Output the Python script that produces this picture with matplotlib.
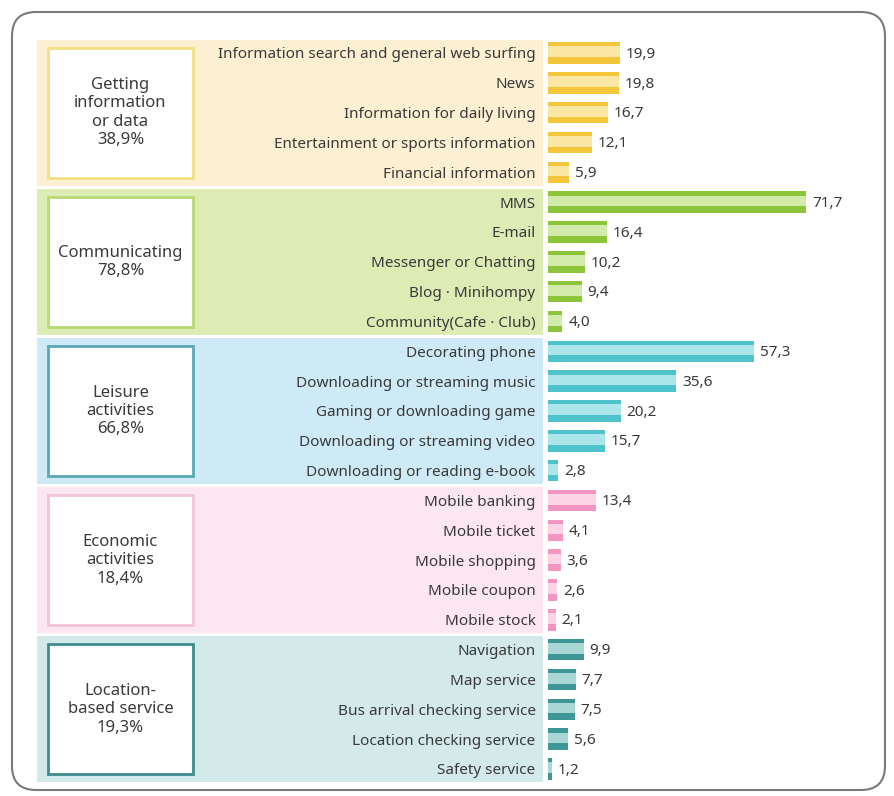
import matplotlib
matplotlib.use("Agg")
import matplotlib.pyplot as plt
from matplotlib.patches import Rectangle, FancyBboxPatch

# ---- data ----
groups = [
    "Getting\ninformation\nor data\n38,9%",
    "Communicating\n78,8%",
    "Leisure\nactivities\n66,8%",
    "Economic\nactivities\n18,4%",
    "Location-\nbased service\n19,3%",
]
items_info = ["Information search and general web surfing", "News",
              "Information for daily living", "Entertainment or sports information",
              "Financial information"]
values_info = [19.9, 19.8, 16.7, 12.1, 5.9]

items_comm = ["MMS", "E-mail", "Messenger or Chatting", "Blog · Minihompy",
              "Community(Cafe · Club)"]
values_comm = [71.7, 16.4, 10.2, 9.4, 4.0]

items_leisure = ["Decorating phone", "Downloading or streaming music",
                 "Gaming or downloading game", "Downloading or streaming video",
                 "Downloading or reading e-book"]
values_leisure = [57.3, 35.6, 20.2, 15.7, 2.8]

items_econ = ["Mobile banking", "Mobile ticket", "Mobile shopping",
              "Mobile coupon", "Mobile stock"]
values_econ = [13.4, 4.1, 3.6, 2.6, 2.1]

items_loc = ["Navigation", "Map service", "Bus arrival checking service",
             "Location checking service", "Safety service"]
values_loc = [9.9, 7.7, 7.5, 5.6, 1.2]

group_items = [items_info, items_comm, items_leisure, items_econ, items_loc]
group_values = [values_info, values_comm, values_leisure, values_econ, values_loc]

# ---- styles ----
band_colors = ["#fdf0d2", "#dcecb4", "#cdeaf6", "#fce6f1", "#d3e9ea"]
box_edges = ["#f3df86", "#b8d874", "#5aa8b4", "#f2c4da", "#3e8c8c"]
bar_dark = ["#f4c63c", "#8cc43a", "#4ec3cc", "#f295c2", "#3f9696"]
bar_light = ["#fbe7a4", "#d3ebaa", "#ace5ea", "#fcd4e6", "#a9d7d6"]
text_color = "#3a3a3a"
font = ["Noto Sans", "DejaVu Sans"]

W, H = 895, 796
fig = plt.figure(figsize=(W / 100, H / 100), dpi=100)

# background layer in pixel units
bg = fig.add_axes([0, 0, 1, 1])
bg.set_xlim(0, W)
bg.set_ylim(H, 0)
bg.axis("off")

bg.add_patch(FancyBboxPatch((12, 12), 873, 778,
                            boxstyle="round,pad=0,rounding_size=24",
                            fc="white", ec="#7a7a7a", lw=1.5))

row0, step = 53.0, 29.83
band_left, band_right = 37, 543
box_left, box_right = 48, 193

for g in range(5):
    top = row0 + (5 * g) * step - 13.5
    bottom = row0 + (5 * g + 4) * step + 13.5
    bg.add_patch(Rectangle((band_left, top), band_right - band_left, bottom - top,
                           fc=band_colors[g], ec="none"))
    bg.add_patch(Rectangle((box_left, top + 8), box_right - box_left,
                           bottom - top - 16, fc="white", ec=box_edges[g], lw=2))
    bg.text((box_left + box_right) / 2, (top + bottom) / 2, groups[g],
            ha="center", va="center", fontsize=12, color=text_color,
            family=font, linespacing=1.2)

# bar layer
x0 = 548
scale = 3.6  # pixels per percentage point
ax = fig.add_axes([x0 / W, 0, 1 - x0 / W, 1], zorder=2)
ax.patch.set_alpha(0)
ax.set_xlim(0, (W - x0) / scale)
ax.set_ylim((H - row0) / step, -row0 / step)
for s in ax.spines.values():
    s.set_visible(False)
ax.set_xticks([])

labels, positions = [], []
for g in range(5):
    for k, (name, v) in enumerate(zip(group_items[g], group_values[g])):
        y = 5 * g + k
        labels.append(name)
        positions.append(y)
        ax.barh(y, v, height=0.72, color=bar_dark[g], lw=0)
        ax.barh(y - 0.04, v, height=0.36, color=bar_light[g], lw=0)
        ax.text(v + 1.6, y + 0.04, f"{v:.1f}".replace(".", ","), va="center",
                ha="left", fontsize=11, color=text_color, family=font)

ax.set_yticks(positions)
ax.set_yticklabels(labels, fontsize=11, color=text_color, family=font)
ax.tick_params(axis="y", length=0, pad=9)

fig.savefig("out.png", dpi=100)
